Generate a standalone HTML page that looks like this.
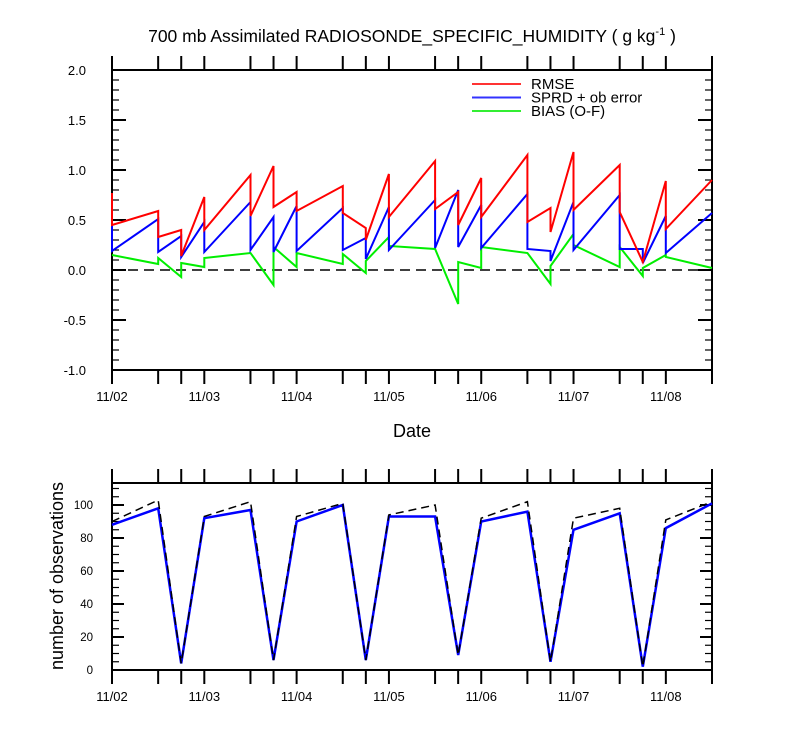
<!DOCTYPE html>
<html><head><meta charset="utf-8"><style>
body{margin:0;background:#fff}
svg{display:block;font-family:"Liberation Sans",Arial,sans-serif}
</style></head><body>
<svg id="c" width="800" height="750"></svg>
<script>
const segTimes=[0,0.5,0.75,1,1.5,1.75,2,2.5,2.75,3,3.5,3.75,4,4.5,4.75,5,5.5,5.75,6,6.5];
const rmseStart=[0.45,0.33,0.14,0.40,0.54,0.63,0.59,0.57,0.30,0.53,0.61,0.45,0.53,0.48,0.38,0.60,0.58,0.08,0.41];
const rmseEnd=[0.59,0.40,0.73,0.95,1.04,0.78,0.84,0.42,0.96,1.09,0.78,0.92,1.15,0.62,1.18,1.05,0.08,0.89,0.90];
const sprdStart=[0.19,0.18,0.13,0.18,0.20,0.18,0.19,0.20,0.11,0.20,0.22,0.23,0.22,0.21,0.09,0.20,0.21,0.07,0.17];
const sprdEnd=[0.51,0.34,0.48,0.68,0.53,0.64,0.62,0.32,0.63,0.70,0.80,0.65,0.76,0.19,0.68,0.75,0.21,0.54,0.57];
const biasStart=[0.15,0.12,0.07,0.12,0.17,0.23,0.17,0.16,0.09,0.24,0.21,0.08,0.23,0.17,0.04,0.25,0.23,0.02,0.13];
const biasEnd=[0.06,-0.07,0.03,0.17,-0.15,0.03,0.06,-0.03,0.33,0.21,-0.34,0.02,0.17,-0.14,0.36,0.03,-0.06,0.15,0.02];
const firstVals={rmse:0.77,sprd:0.57,bias:0.15};
const obsUsed=[88,98,4,92,97,6,90,100,6,93,93,9,90,96,5,85,95,2,86,101];
const obsTotal=[90,103,4,93,102,6,93,101,6,94,100,9,92,102,5,92,98,2,91,102];
const dayLabels=['11/02','11/03','11/04','11/05','11/06','11/07','11/08'];
const topYTicks=[-1.0,-0.5,0.0,0.5,1.0,1.5,2.0];
const botYTicks=[0,20,40,60,80,100];

const NS='http://www.w3.org/2000/svg';
const svg=document.getElementById('c');
function el(tag,attrs,parent){const e=document.createElementNS(NS,tag);for(const k in attrs)e.setAttribute(k,attrs[k]);(parent||svg).appendChild(e);return e;}
const X0=112,X1=712;
const xs=t=>X0+(t/6.5)*(X1-X0);
const yTop=v=>270-v*100;
const yBot=v=>670-v*1.65;

let t=el('text',{x:412,y:42,'text-anchor':'middle','font-size':17.5});

t.innerHTML='700 mb Assimilated RADIOSONDE_SPECIFIC_HUMIDITY ( g kg<tspan dy="-7" font-size="11">-1</tspan><tspan dy="7"> )</tspan>';

function frame(top,bottom,name){
  const r=el('rect',{x:X0,y:top,width:X1-X0,height:bottom-top,fill:'none',stroke:'#000','stroke-width':2});
  
  segTimes.forEach(s=>{
    el('line',{x1:xs(s),x2:xs(s),y1:top,y2:top-14,stroke:'#000','stroke-width':2});
    el('line',{x1:xs(s),x2:xs(s),y1:bottom,y2:bottom+14,stroke:'#000','stroke-width':2});
  });
  dayLabels.forEach((d,i)=>{
    const tx=el('text',{x:xs(i),y:bottom+31,'text-anchor':'middle','font-size':13});
    
    tx.textContent=d;
  });
}
function poly(pts,color,w,name,dash){
  const p=el('polyline',{points:pts.map(q=>q[0].toFixed(1)+','+q[1].toFixed(1)).join(' '),fill:'none',stroke:color,'stroke-width':w,'stroke-linejoin':'miter'});
  if(dash)p.setAttribute('stroke-dasharray',dash);
  
}

frame(70,370,'top-plot-frame');
for(let v=-1;v<=2.0001;v+=0.1){
  const major=Math.abs(v*2-Math.round(v*2))<1e-6;
  const L=major?14:7;
  el('line',{x1:X0,x2:X0+L,y1:yTop(v),y2:yTop(v),stroke:'#000','stroke-width':major?2:1.2});
  el('line',{x1:X1,x2:X1-L,y1:yTop(v),y2:yTop(v),stroke:'#000','stroke-width':major?2:1.2});
}
topYTicks.forEach(v=>{
  const tx=el('text',{x:X0-26,y:yTop(v)+5,'text-anchor':'end','font-size':13});
  
  tx.textContent=v.toFixed(1);
});
const zl=el('line',{x1:X0,x2:X1,y1:yTop(0),y2:yTop(0),stroke:'#000','stroke-width':1.5,'stroke-dasharray':'10,6'});

function series(st,en,first,color,name){
  const pts=[[xs(0),yTop(first)]];
  for(let i=0;i<st.length;i++){pts.push([xs(segTimes[i]),yTop(st[i])]);pts.push([xs(segTimes[i+1]),yTop(en[i])]);}
  poly(pts,color,2,name);
}
series(biasStart,biasEnd,firstVals.bias,'#00ee00','bias-line');
series(sprdStart,sprdEnd,firstVals.sprd,'#0000ff','sprd-line');
series(rmseStart,rmseEnd,firstVals.rmse,'#ff0000','rmse-line');
const leg=[['RMSE','#ff3333'],['SPRD + ob error','#3333ff'],['BIAS (O-F)','#33ee33']];
leg.forEach((l,i)=>{
  const y=84+i*13.5;
  const ln=el('line',{x1:472,x2:521,y1:y,y2:y,stroke:l[1],'stroke-width':2});
  
  const tx=el('text',{x:531,y:y+5,'font-size':15});
  
  tx.textContent=l[0];
});
const xt=el('text',{x:412,y:437,'text-anchor':'middle','font-size':18});

xt.textContent='Date';

frame(483,670,'bottom-plot-frame');
for(let v=0;v<=113;v+=5){
  const major=v%20===0;const L=major?12:7;
  el('line',{x1:X0,x2:X0+L,y1:yBot(v),y2:yBot(v),stroke:'#000','stroke-width':major?2:1.2});
  el('line',{x1:X1,x2:X1-L,y1:yBot(v),y2:yBot(v),stroke:'#000','stroke-width':major?2:1.2});
}
botYTicks.forEach(v=>{
  const tx=el('text',{x:X0-19,y:yBot(v)+4,'text-anchor':'end','font-size':11.5});
  
  tx.textContent=v;
});
poly(obsUsed.map((v,i)=>[xs(segTimes[i]),yBot(v)]),'#0000ff',2.5,'obs-used-line');
poly(obsTotal.map((v,i)=>[xs(segTimes[i]),yBot(v)]),'#000',1.5,'obs-total-line','8,5');
const yl=el('text',{x:0,y:0,'text-anchor':'middle','font-size':18,transform:'translate(63,576) rotate(-90)'});

yl.textContent='number of observations';
</script>
</body></html>
